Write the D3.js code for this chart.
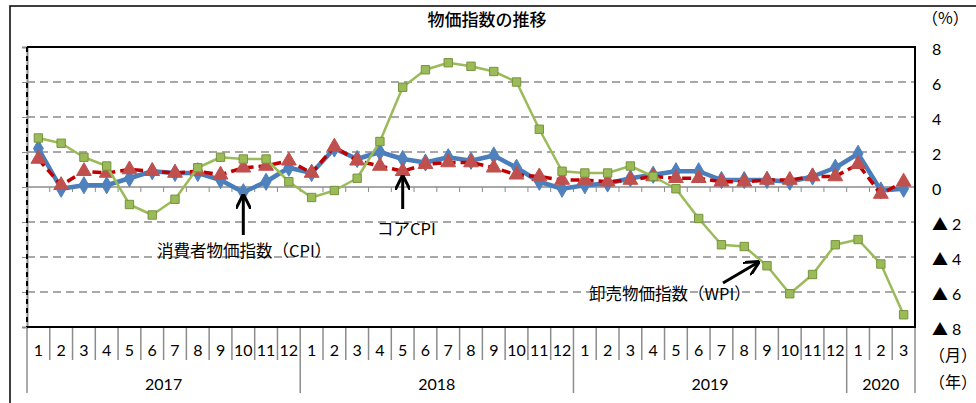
<!DOCTYPE html>
<html>
<head>
<meta charset="utf-8">
<script src="https://cdn.jsdelivr.net/npm/d3@7"></script>
<style>
  body { margin: 0; background: #fff; }
  svg text { font-family: "Noto Sans CJK JP", "Lato", sans-serif; fill: #000; }
  .num { font-family: "Lato", "Noto Sans", sans-serif; }
</style>
</head>
<body>
<svg id="chart" width="976" height="403"></svg>
<script>
// months 2017/1 .. 2020/3
var monthLabels = [1,2,3,4,5,6,7,8,9,10,11,12, 1,2,3,4,5,6,7,8,9,10,11,12,
                   1,2,3,4,5,6,7,8,9,10,11,12, 1,2,3];
var years = [{label: "2017", start: 0, end: 12}, {label: "2018", start: 12, end: 24},
             {label: "2019", start: 24, end: 36}, {label: "2020", start: 36, end: 39}];

// CPI (blue)
var cpi = [2.2,-0.1,0.1,0.1,0.5,0.9,0.8,0.8,0.4,-0.3,0.3,1.1,
           0.8,2.2,1.6,2.0,1.6,1.4,1.7,1.5,1.8,1.1,0.3,-0.1,
           0.1,0.2,0.5,0.7,0.9,0.9,0.4,0.4,0.4,0.3,0.6,1.1,
           1.9,-0.2,-0.1];
// core CPI (red dashed)
var core = [1.6,0.1,0.9,0.8,1.0,0.9,0.8,0.9,0.7,1.1,1.2,1.5,
            0.8,2.3,1.5,1.2,0.9,1.3,1.4,1.4,1.1,0.7,0.6,0.4,
            0.4,0.3,0.4,0.6,0.5,0.5,0.3,0.3,0.4,0.4,0.6,0.6,
            1.3,-0.4,0.3];
// WPI (green)
var wpi = [2.8,2.5,1.7,1.2,-1.0,-1.6,-0.7,1.1,1.7,1.6,1.6,0.3,
           -0.6,-0.2,0.5,2.6,5.7,6.7,7.1,6.9,6.6,6.0,3.3,0.9,
           0.8,0.8,1.2,0.6,-0.1,-1.8,-3.3,-3.4,-4.5,-6.1,-5.0,-3.3,
           -3.0,-4.4,-7.3];
var yTicks = [8,6,4,2,0,-2,-4,-6,-8];

var svg = d3.select("#chart");
var pLeft = 27, pRight = 915, pTop = 47, pBottom = 327;

var x = d3.scaleBand().domain(d3.range(monthLabels.length)).range([pLeft, pRight]);
var y = d3.scaleLinear().domain([-8, 8]).range([pBottom, pTop]);
var cx = function(i) { return x(i) + x.bandwidth() / 2; };

// outer frame
svg.append("rect").attr("x", 10).attr("y", 6).attr("width", 1000).attr("height", 440)
  .attr("fill", "none").attr("stroke", "#000").attr("stroke-width", 1.5);

// title
svg.append("text").attr("x", 487).attr("y", 26).attr("text-anchor", "middle")
  .style("font-size", "17px").style("font-weight", 500).text("物価指数の推移");
svg.append("text").attr("x", 922).attr("y", 24).style("font-size", "16px").text("（%）");

// gridlines
svg.append("g").selectAll("line").data(yTicks.filter(function(v) { return v !== 0 && Math.abs(v) !== 8; }))
  .enter().append("line")
  .attr("x1", pLeft).attr("x2", pRight)
  .attr("y1", function(d) { return y(d); }).attr("y2", function(d) { return y(d); })
  .attr("stroke", "#8c8c8c").attr("stroke-width", 1.5).attr("stroke-dasharray", "8,5");

// zero line with small ticks
svg.append("line").attr("x1", pLeft).attr("x2", pRight).attr("y1", y(0)).attr("y2", y(0))
  .attr("stroke", "#8c8c8c").attr("stroke-width", 1.5);
svg.append("g").selectAll("line").data(d3.range(1, monthLabels.length)).enter().append("line")
  .attr("x1", function(i) { return x(i); }).attr("x2", function(i) { return x(i); })
  .attr("y1", y(0)).attr("y2", y(0) + 5)
  .attr("stroke", "#8c8c8c").attr("stroke-width", 1);

// left axis (no labels, dashed line)
var leftAxis = svg.append("g").attr("transform", "translate(" + pLeft + ",0)")
  .call(d3.axisLeft(y).tickValues(yTicks).tickSize(5).tickFormat(""));
leftAxis.selectAll(".tick line").attr("stroke", "#8c8c8c");
leftAxis.select(".domain").attr("stroke", "#8c8c8c").attr("stroke-width", 2);
svg.append("line").attr("x1", pLeft).attr("x2", pLeft).attr("y1", pTop).attr("y2", pBottom)
  .attr("stroke", "#000").attr("stroke-width", 2).attr("stroke-dasharray", "5,4");

// right axis labels
var rightAxis = svg.append("g").attr("transform", "translate(932,0)")
  .call(d3.axisRight(y).tickValues(yTicks).tickSize(0)
    .tickFormat(function(v) { return v < 0 ? "▲ " + (-v) : v; }));
rightAxis.select(".domain").remove();
rightAxis.selectAll("text").attr("x", 0).attr("dy", "0.45em")
  .style("font-size", "16px").style("font-family", "Lato, 'Noto Sans CJK JP'");

// category axis
var cat = svg.append("g");
cat.selectAll(".mtick").data(d3.range(0, monthLabels.length + 1)).enter().append("line")
  .attr("x1", function(i) { return i < monthLabels.length ? x(i) : pRight; })
  .attr("x2", function(i) { return i < monthLabels.length ? x(i) : pRight; })
  .attr("y1", pBottom)
  .attr("y2", function(i) {
    return years.some(function(yr) { return yr.start === i || yr.end === i; }) ? 393 : 360;
  })
  .attr("stroke", "#8c8c8c").attr("stroke-width", 1.5);
cat.selectAll(".mlabel").data(monthLabels).enter().append("text")
  .attr("class", "num")
  .attr("x", function(d, i) { return cx(i); }).attr("y", 356)
  .attr("text-anchor", "middle").style("font-size", "16px")
  .text(function(d) { return d; });
cat.selectAll(".ylabel").data(years).enter().append("text")
  .attr("class", "num")
  .attr("x", function(d) { return (x(d.start) + (d.end < monthLabels.length ? x(d.end) : pRight)) / 2; })
  .attr("y", 390).attr("text-anchor", "middle").style("font-size", "16px")
  .text(function(d) { return d.label; });
svg.append("text").attr("x", 929).attr("y", 361).style("font-size", "16px").text("（月）");
svg.append("text").attr("x", 929).attr("y", 388).style("font-size", "16px").text("（年）");

// series
var line = d3.line().x(function(d, i) { return cx(i); }).y(function(d) { return y(d); });

function drawSeries(data, color, width, dash, shape, size, fill, stroke) {
  var g = svg.append("g");
  g.append("path").datum(data).attr("d", line)
    .attr("fill", "none").attr("stroke", color).attr("stroke-width", width)
    .attr("stroke-dasharray", dash).attr("stroke-linejoin", "round");
  g.selectAll("path.m").data(data).enter().append("path").attr("class", "m")
    .attr("d", d3.symbol().type(shape).size(size))
    .attr("transform", function(d, i) { return "translate(" + cx(i) + "," + y(d) + ")"; })
    .attr("fill", fill).attr("stroke", stroke).attr("stroke-width", 1);
}
drawSeries(cpi, "#4a7ebb", 4.5, null, d3.symbolDiamond, 85, "#4f81bd", "#4f81bd");
drawSeries(core, "#c00000", 3.5, "9,5", d3.symbolTriangle, 95, "#c0504d", "#c0504d");
drawSeries(wpi, "#9bbb59", 2.5, null, d3.symbolSquare, 70, "#9bbb59", "#77933c");

// plot frame (top, right, bottom)
svg.append("path")
  .attr("d", "M" + pLeft + "," + pTop + "H" + pRight + "V" + pBottom + "H" + pLeft)
  .attr("fill", "none").attr("stroke", "#000").attr("stroke-width", 2);

// annotations
var defs = svg.append("defs");
defs.append("marker").attr("id", "ah").attr("viewBox", "0 0 10 10").attr("refX", 8).attr("refY", 5)
  .attr("markerWidth", 5).attr("markerHeight", 5).attr("orient", "auto")
  .append("path").attr("d", "M0,0 L10,5 L0,10").attr("fill", "none")
  .attr("stroke", "#000").attr("stroke-width", 2);

function arrow(x1, y1, x2, y2) {
  svg.append("line").attr("x1", x1).attr("y1", y1).attr("x2", x2).attr("y2", y2)
    .attr("stroke", "#000").attr("stroke-width", 3).attr("marker-end", "url(#ah)");
}
arrow(cx(9), 235, cx(9), 197);
arrow(cx(16), 209, cx(16), 178);
arrow(723, 283, 757, 263);

svg.append("text").attr("x", 157).attr("y", 257).style("font-size", "16.5px").text("消費者物価指数（CPI）");
svg.append("text").attr("x", 377).attr("y", 235).style("font-size", "16.5px").text("コアCPI");
svg.append("text").attr("x", 589).attr("y", 300).style("font-size", "16.5px").text("卸売物価指数（WPI）");
</script>
</body>
</html>
